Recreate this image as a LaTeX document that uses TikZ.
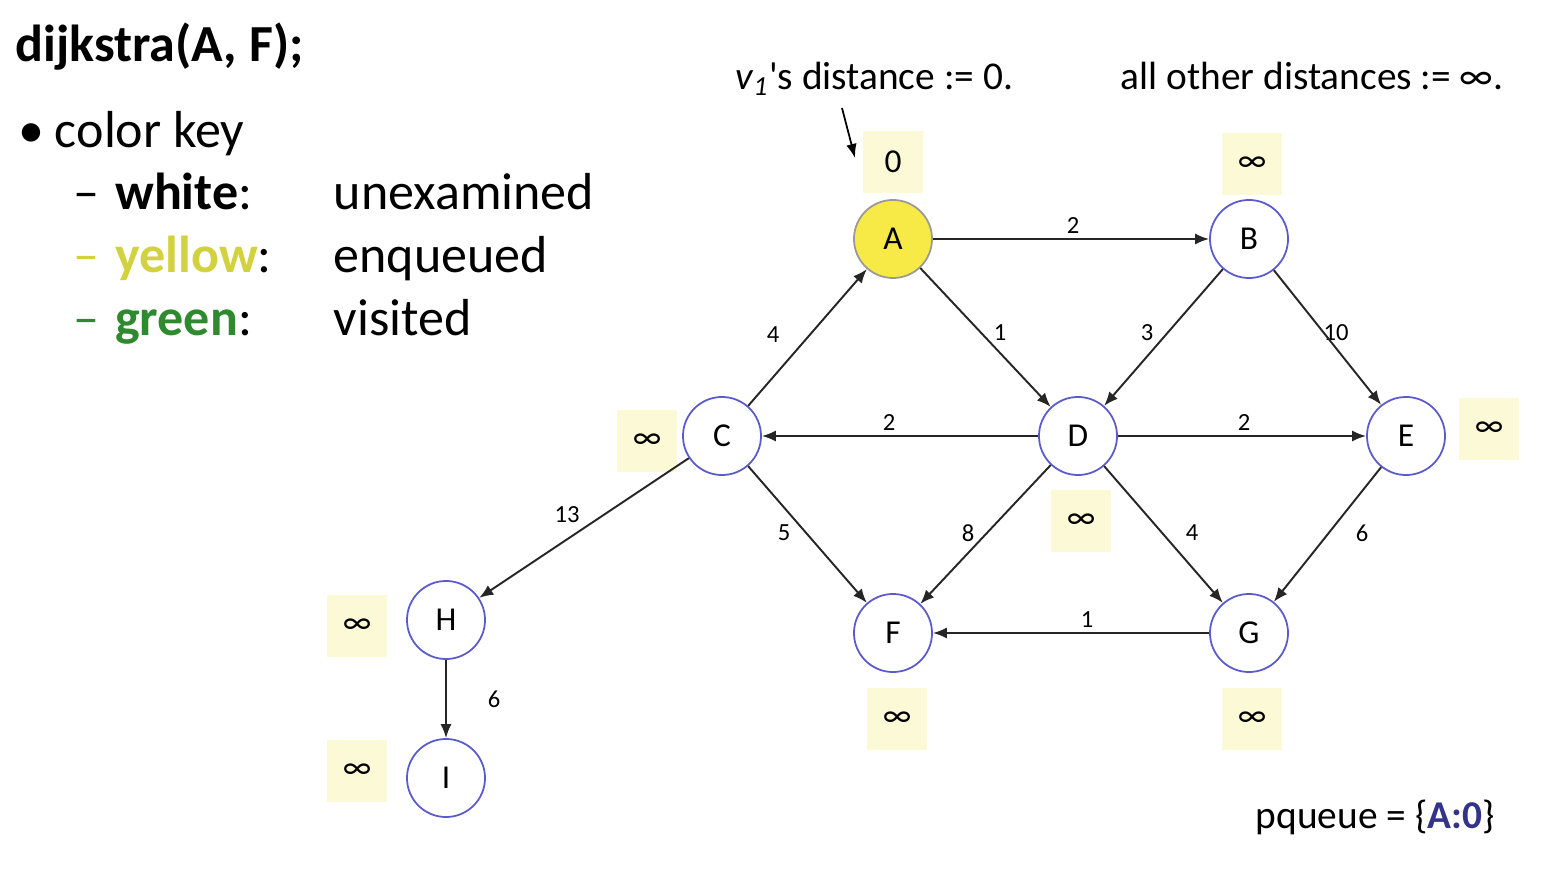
\documentclass[tikz,border=0pt]{standalone}
\usepackage{fontspec}
\setmainfont{Carlito}
\usetikzlibrary{arrows.meta}

\definecolor{nodeblue}{HTML}{5A5ACD}
\definecolor{qyellow}{HTML}{F7E946}
\definecolor{distbg}{HTML}{FCFAD6}
\definecolor{keyyellow}{HTML}{D2D23E}
\definecolor{keygreen}{HTML}{2F8A2F}
\definecolor{qblue}{HTML}{33338C}

\tikzset{
  vertex/.style={circle, draw=nodeblue, line width=0.5pt, fill=white, minimum size=0.78cm, inner sep=0pt, font=\fontsize{9.5}{11}\selectfont},
  enq/.style={vertex, fill=qyellow, draw=black!40},
  dist/.style={fill=distbg, minimum width=0.59cm, minimum height=0.62cm, inner sep=0pt, font=\fontsize{9.5}{11}\selectfont},
  wlbl/.style={font=\fontsize{7}{8}\selectfont, inner sep=0pt},
  edge/.style={-{Latex[length=4pt,width=3.2pt]}, line width=0.55pt, black!85},
  big/.style={anchor=base west, inner sep=0pt, font=\fontsize{14.8}{17}\selectfont},
  note/.style={anchor=base west, inner sep=0pt, font=\fontsize{11.2}{13}\selectfont},
}

\begin{document}
\begin{tikzpicture}[x=0.01cm, y=-0.01cm]
				\useasboundingbox (0,0) rectangle (1548,870);
				
				% color key
				\node[big] (title) at (15,62) {\textbf{dijkstra(A, F);}};
				\node[big] (key) at (18,148) {\textbullet\hspace{0.2em}color key};
				\node[big] (kw) at (73,210) {–\hspace{0.3em}\textbf{white}:};
				\node[big] (ky) at (73,273) {\color{keyyellow}–\hspace{0.3em}\textbf{yellow}\color{black}:};
				\node[big] (kg) at (73,335) {\color{keygreen}–\hspace{0.3em}\textbf{green}\color{black}:};
				\node[big] (kwt) at (333,210) {unexamined};
				\node[big] (kyt) at (333,273) {enqueued};
				\node[big] (kgt) at (333,335) {visited};
				
				% notes
				\node[note] (n1) at (735,90) {\textit{v\textsubscript{1}}\textquotesingle s distance := 0.};
				\node[note] (n2) at (1120,90) {all other distances := ∞.};
				\node[note] (pq) at (1255,828) {pqueue = \{\textbf{\color{qblue}A:0}\}};
				
				% vertices
				\node[enq] (A) at (893,239) {A};
				\node[vertex] (B) at (1249,239) {B};
				\node[vertex] (C) at (722,436) {C};
				\node[vertex] (D) at (1078,436) {D};
				\node[vertex] (E) at (1406,436) {E};
				\node[vertex] (F) at (893,633) {F};
				\node[vertex] (G) at (1249,633) {G};
				\node[vertex] (H) at (446,620) {H};
				\node[vertex] (I) at (446,778) {I};
				
				% distances
				\node[dist] (dA) at (893,162) {0};
				\node[dist] (dB) at (1252,164) {∞};
				\node[dist] (dC) at (647,441) {∞};
				\node[dist] (dD) at (1081,521) {∞};
				\node[dist] (dE) at (1489,429) {∞};
				\node[dist] (dF) at (897,719) {∞};
				\node[dist] (dG) at (1252,719) {∞};
				\node[dist] (dH) at (357,626) {∞};
				\node[dist] (dI) at (357,771) {∞};
				
				% weights
				\node[wlbl] (wAB) at (1073,226) {2};
				\node[wlbl] (wAD) at (1000,333) {1};
				\node[wlbl] (wBD) at (1147,333) {3};
				\node[wlbl] (wBE) at (1336,333) {10};
				\node[wlbl] (wCA) at (773,335) {4};
				\node[wlbl] (wDC) at (889,423) {2};
				\node[wlbl] (wDE) at (1244,423) {2};
				\node[wlbl] (wCH) at (567,515) {13};
				\node[wlbl] (wCF) at (784,533) {5};
				\node[wlbl] (wDF) at (968,533) {8};
				\node[wlbl] (wDG) at (1192,533) {4};
				\node[wlbl] (wEG) at (1362,533) {6};
				\node[wlbl] (wGF) at (1087,620) {1};
				\node[wlbl] (wHI) at (494,699) {6};
				
				\draw[edge] (A) -- (B);
				\draw[edge] (A) -- (D);
				\draw[edge] (B) -- (D);
				\draw[edge] (B) -- (E);
				\draw[edge] (C) -- (A);
				\draw[edge] (D) -- (C);
				\draw[edge] (D) -- (E);
				\draw[edge] (C) -- (H);
				\draw[edge] (C) -- (F);
				\draw[edge] (D) -- (F);
				\draw[edge] (D) -- (G);
				\draw[edge] (E) -- (G);
				\draw[edge] (G) -- (F);
				\draw[edge] (H) -- (I);
				
				% pointer to the start distance
				\coordinate (p0) at (842,108);
				\coordinate (p1) at (855,158);
				\draw[-{Latex[length=4pt,width=3pt]}, line width=0.5pt] (p0) -- (p1);
			\end{tikzpicture}
\end{document}
